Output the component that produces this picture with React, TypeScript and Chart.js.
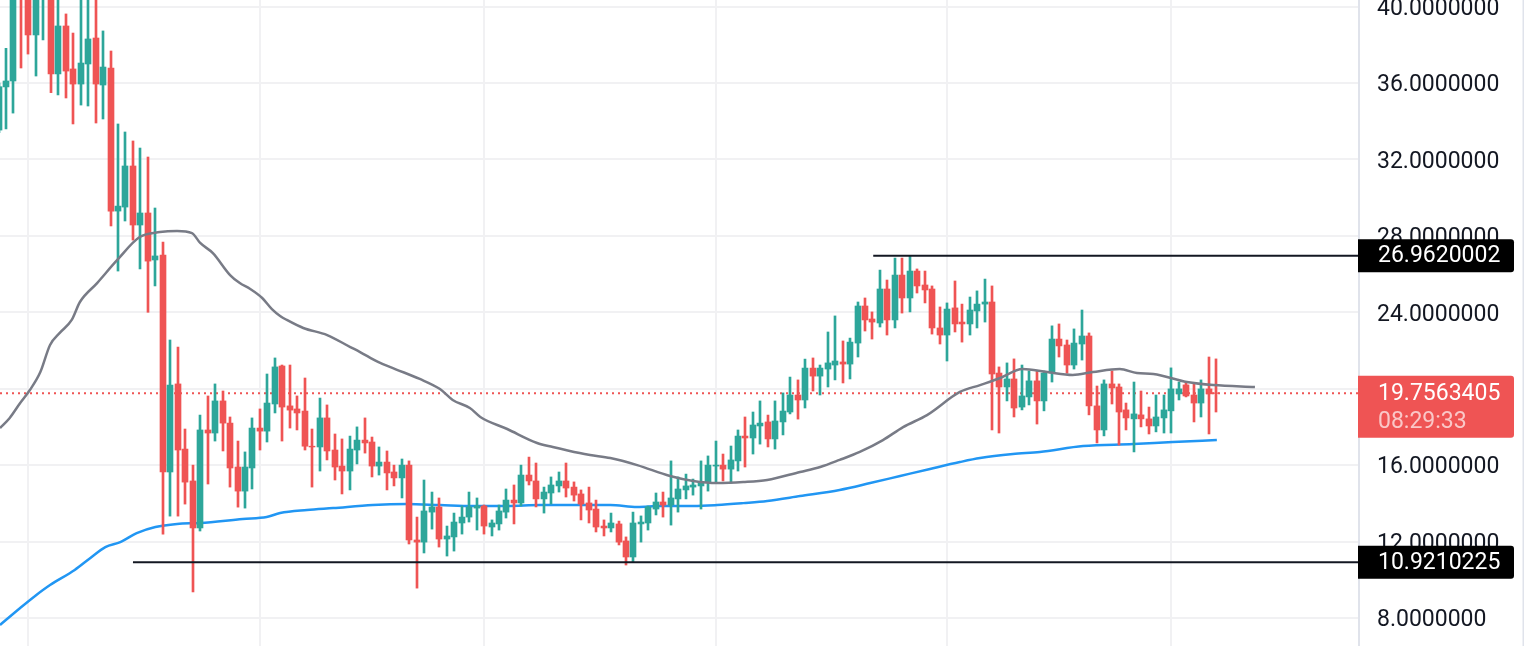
import { useEffect, useRef } from "react";
import Chart from "chart.js/auto";

const opens = [
  33.54, 35.8, 36.11, 42.5, 41.5, 38.52, 40.6, 42, 36.48, 38.99,
  36.74, 35.95, 37.0, 38.36, 35.9, 36.79, 29.3, 29.51, 31.66, 28.57,
  29.2, 26.74, 27.0, 15.64, 20.25, 16.84, 15.17, 12.71, 17.84, 17.68,
  19.36, 18.2, 15.9, 14.64, 15.85, 17.94, 17.78, 19.2, 21.19, 19.1,
  18.94, 18.83, 16.99, 16.95, 18.47, 16.79, 15.95, 15.69, 16.79, 17.31,
  17.21, 15.95, 16.16, 15.64, 15.33, 16.0, 12.08, 11.97, 13.54, 13.81,
  12.13, 12.24, 12.97, 13.28, 13.75, 13.86, 12.76, 12.92, 13.54, 14.17,
  14.02, 15.48, 15.17, 14.23, 14.54, 14.91, 15.17, 14.85, 14.49, 14.02,
  13.7, 12.81, 12.71, 12.92, 12.03, 11.19, 12.92, 12.97, 13.7, 14.07,
  13.91, 14.23, 14.7, 14.85, 14.91, 15.12, 15.95, 16.0, 15.79, 16.22,
  17.52, 17.42, 18.05, 18.26, 17.37, 18.26, 18.78, 19.67, 19.41, 21.08,
  20.66, 21.03, 21.24, 21.4, 21.29, 22.39, 24.33, 23.65, 23.44, 25.22,
  23.6, 25.95, 24.75, 26.16, 25.43, 25.22, 23.18, 22.81, 24.23, 23.49,
  23.39, 24.07, 24.43, 24.54, 20.82, 20.09, 20.51, 19.04, 19.57, 20.41,
  19.36, 20.82, 22.6, 22.29, 21.24, 22.34, 22.76, 19.1, 17.84, 20.25,
  20.09, 18.89, 18.42, 18.63, 18.42, 18.05, 18.47, 18.84, 19.73, 20.2,
  19.67, 19.25, 19.99, 19.78,
];
const closes = [
  35.81, 36.11, 41.5, 41.0, 38.52, 41.5, 42, 36.48, 38.99, 36.63,
  35.95, 37.05, 38.31, 35.95, 36.84, 29.3, 29.56, 31.66, 28.57, 29.2,
  26.68, 26.95, 15.64, 20.19, 16.79, 15.11, 12.71, 17.84, 17.68, 19.36,
  18.2, 15.85, 14.64, 15.9, 17.94, 17.78, 19.25, 21.14, 19.04, 18.88,
  18.73, 16.99, 16.95, 18.47, 16.74, 15.9, 15.69, 16.84, 17.31, 17.16,
  15.95, 16.16, 15.59, 15.33, 16.0, 12.08, 11.97, 13.6, 13.81, 12.13,
  12.29, 13.02, 13.28, 13.81, 13.86, 12.81, 12.97, 13.6, 14.17, 14.02,
  15.48, 15.17, 14.23, 14.59, 14.96, 15.17, 14.8, 14.43, 13.96, 13.65,
  12.76, 12.71, 12.97, 11.97, 11.19, 12.97, 13.02, 13.81, 14.07, 13.91,
  14.28, 14.75, 14.91, 14.96, 15.12, 16.0, 16.0, 15.79, 16.27, 17.52,
  17.42, 18.1, 18.2, 17.37, 18.31, 18.83, 19.67, 19.41, 21.08, 20.66,
  21.08, 21.35, 21.45, 21.29, 22.44, 24.33, 23.6, 23.49, 25.22, 23.6,
  25.95, 24.75, 26.16, 25.38, 25.17, 23.18, 22.81, 24.17, 23.39, 23.39,
  24.12, 24.43, 24.54, 20.77, 20.09, 20.51, 18.99, 19.62, 20.41, 19.36,
  20.82, 22.6, 22.24, 21.24, 22.39, 22.76, 19.1, 17.84, 20.25, 20.04,
  18.78, 18.47, 18.68, 18.42, 18.05, 18.52, 18.89, 19.99, 19.99, 19.62,
  19.25, 19.99, 19.73, 19.756,
];
const highs = [
  36, 37.82, 43, 43.5, 42.5, 42, 43, 42.5, 41, 39.62,
  38.62, 41, 41, 41, 38.73, 37.68, 33.86, 33.44, 32.97, 32.6,
  32.13, 29.46, 27.68, 22.55, 22.18, 17.89, 16.0, 18.62, 19.62, 20.25,
  19.88, 18.52, 17.26, 16.69, 18.47, 18.94, 20.77, 21.61, 21.24, 21.24,
  19.62, 20.56, 17.89, 19.51, 19.15, 17.63, 17.37, 17.52, 18.0, 18.47,
  17.47, 16.95, 16.74, 16.0, 16.32, 16.22, 13.28, 15.22, 14.59, 14.28,
  12.81, 13.49, 13.86, 14.59, 14.28, 13.91, 13.13, 13.91, 14.75, 14.96,
  16.0, 16.42, 16.11, 14.85, 15.38, 15.64, 16.11, 15.12, 14.7, 14.85,
  14.17, 13.13, 13.49, 13.07, 12.24, 13.54, 13.34, 13.86, 14.54, 14.59,
  16.22, 15.38, 15.53, 15.27, 16.22, 16.48, 17.26, 16.58, 17.0, 17.84,
  18.52, 18.78, 19.36, 18.62, 19.36, 19.78, 20.61, 20.46, 21.55, 21.61,
  21.24, 22.97, 23.81, 22.5, 22.65, 24.54, 24.75, 24.02, 26.21, 25.69,
  26.84, 26.84, 26.95, 26.27, 26.16, 25.38, 24.28, 24.49, 25.64, 24.43,
  24.8, 25.12, 25.74, 25.38, 21.14, 21.35, 21.56, 21.24, 20.93, 20.93,
  20.93, 23.29, 23.39, 22.55, 23.13, 24.12, 22.92, 20.14, 20.46, 20.93,
  20.25, 19.25, 20.35, 19.88, 19.04, 19.67, 19.67, 21.09, 20.35, 20.35,
  20.25, 20.46, 21.66, 21.56,
];
const lows = [
  33.4, 33.6, 34.43, 36.79, 37.52, 36.37, 38.26, 35.5, 35.38, 35.22,
  33.86, 34.85, 34.8, 33.91, 34.12, 28.52, 26.16, 28.78, 27.78, 26.27,
  24.0, 25.38, 12.39, 13.33, 13.33, 13.96, 9.36, 12.55, 15.01, 17.26,
  16.74, 14.85, 13.8, 13.75, 14.75, 16.79, 17.21, 18.73, 17.26, 17.94,
  17.84, 16.79, 14.85, 15.69, 16.27, 15.22, 14.49, 14.7, 16.06, 16.63,
  15.38, 15.48, 14.7, 14.91, 14.28, 11.87, 9.56, 11.4, 12.65, 11.71,
  11.24, 11.5, 12.39, 13.02, 12.6, 12.39, 12.29, 12.6, 13.23, 12.92,
  13.86, 14.96, 13.81, 13.49, 13.96, 14.59, 14.33, 14.12, 13.13, 12.97,
  12.5, 12.29, 12.5, 11.82, 10.77, 10.93, 11.97, 12.6, 13.39, 13.28,
  12.86, 13.54, 14.23, 14.43, 13.7, 14.64, 15.12, 15.17, 15.06, 15.69,
  15.9, 16.58, 17.1, 16.95, 16.84, 17.58, 18.68, 18.41, 18.99, 19.88,
  19.67, 20.09, 20.46, 20.3, 20.51, 21.66, 23.02, 22.6, 23.23, 22.81,
  23.18, 23.96, 24.02, 25.01, 24.49, 22.86, 22.34, 21.45, 22.97, 22.44,
  22.81, 23.18, 23.49, 17.84, 17.68, 19.36, 18.52, 18.89, 19.15, 18.15,
  18.84, 20.35, 21.66, 20.81, 21.03, 21.5, 18.63, 17.16, 17.53, 19.2,
  17.05, 17.84, 16.69, 18.0, 17.63, 17.74, 17.68, 17.68, 19.41, 19.57,
  18.26, 18.52, 17.63, 18.78,
];

const slowMaDays = [
  0.2, 1.5, 2.9, 4.2, 5.6, 6.9, 8.2, 9.8, 10.9, 13.2, 15.9, 18.9, 21.6, 23.9, 25.9, 27, 28.7, 31, 32.3, 33.7,
  35.3, 36.6, 37.7, 38.6, 40.8, 44, 47.1, 48.4, 50.8, 53.1, 56.4, 59.1, 60.8, 63.1, 64.5, 68.1, 72.1, 74.2, 77.8, 79.2,
  81.9, 85.5, 89.9, 93, 96.2, 99.7, 102.9, 107.3, 110, 112.6, 115.3, 118.4, 121.1, 124.3, 128.7, 131.4, 134.1, 137.1, 140.4, 143.8,
  146.5, 150.1, 152.4, 154.6, 159.1, 162.6, 168.2,
];
const slowMa = [
  17.94, 18.47, 19.25, 19.93, 20.87, 22.29, 22.92, 23.6, 24.54, 25.53, 26.74, 27.94, 28.2, 28.26, 28.15, 27.63, 27.1, 25.95, 25.53, 25.22,
  24.75, 24.17, 23.81, 23.6, 23.18, 22.81, 22.18, 21.92, 21.4, 21.03, 20.51, 19.98, 19.41, 18.99, 18.52, 17.89, 17.16, 16.95, 16.63, 16.53,
  16.37, 16.0, 15.43, 15.17, 15.06, 15.11, 15.22, 15.64, 15.9, 16.27, 16.69, 17.31, 17.99, 18.62, 19.83, 20.19, 20.56, 21.03, 20.87, 20.72,
  20.87, 21.03, 20.82, 20.77, 20.35, 20.19, 20.09,
];
const longMaDays = [
  0.2, 2.9, 4.9, 6.9, 10.2, 12.3, 14.3, 16.3, 18.5, 21, 23.9, 27, 32.7, 35.9, 37.7, 41.3, 44.8, 50.1, 54.7, 59.1,
  63.5, 68.1, 72.5, 77.8, 81.9, 85.5, 88.6, 93, 96.2, 99.7, 102.9, 107.3, 112.6, 116.7, 120.7, 124.7, 128.7, 131.4, 135.8, 139.4,
  145.2, 151.9, 157.2, 163.1,
];
const longMa = [
  7.63, 8.52, 9.15, 9.72, 10.51, 11.14, 11.71, 11.97, 12.44, 12.76, 12.92, 12.97, 13.18, 13.28, 13.49, 13.65, 13.75, 13.91, 13.96, 13.91,
  13.86, 13.86, 13.91, 13.91, 13.91, 13.81, 13.86, 13.86, 13.91, 14.01, 14.12, 14.38, 14.7, 15.06, 15.43, 15.8, 16.16, 16.37, 16.58, 16.69,
  17.0, 17.1, 17.21, 17.31,
];

const priceTicks = [40, 36, 32, 28, 24, 20, 16, 12, 8];
const monthTicks = [4, 35, 65, 96, 127, 157];

const topLevel = 26.9620002;
const topLevelStart = 117.1;
const bottomLevel = 10.9210225;
const bottomLevelStart = 18;
const lastPrice = 19.7563405;
const countdown = "08:29:33";

const X_MIN = 0.2;
const X_MAX = 182.13;
const UP = "#2da69a";
const DOWN = "#ef5454";
const FONT = "Roboto";
const GRID = "#f1f1f3";

const candleColors = closes.map((c, i) => (c >= opens[i] ? UP : DOWN));

// keeps candles on whole pixels, otherwise the 2px wicks go blurry
const snapBarsPlugin = {
  id: "snapBars",
  beforeDatasetsDraw(chart: any) {
    chart.getSortedVisibleDatasetMetas().forEach((meta: any) => {
      if (meta.type !== "bar") return;
      meta.data.forEach((bar: any) => {
        bar.x = Math.round(bar.x);
      });
    });
  },
};

// price tags sit on top of the axis, so they cover the 28, 20 and 12 ticks
const priceTagsPlugin = {
  id: "priceTags",
  afterDraw(chart: any) {
    const { ctx, scales } = chart;
    const left = chart.chartArea.right - 1;
    const width = 156;
    const textX = 1378;

    const tag = (top: number, height: number, color: string) => {
      ctx.fillStyle = color;
      ctx.beginPath();
      ctx.roundRect(left, top, width, height, [0, 3, 3, 0]);
      ctx.fill();
    };

    ctx.save();
    ctx.font = `23px ${FONT}`;
    ctx.textBaseline = "middle";
    ctx.textAlign = "left";

    [topLevel, bottomLevel].forEach((level) => {
      const y = scales.y.getPixelForValue(level);
      tag(y - 16.5, 33, "#000000");
      ctx.fillStyle = "#ffffff";
      ctx.fillText(level.toFixed(7), textX, y + 1);
    });

    const lastY = scales.y.getPixelForValue(lastPrice);
    tag(lastY - 17.5, 62, DOWN);
    ctx.fillStyle = "#ffffff";
    ctx.fillText(lastPrice.toFixed(7), textX, lastY + 1);
    ctx.fillStyle = "rgba(255,255,255,0.68)";
    ctx.fillText(countdown, textX, lastY + 29);

    ctx.fillStyle = "#e0e3eb";
    ctx.fillRect(1522.5, 0, 1.5, chart.height);
    ctx.restore();
  },
};

export default function App() {
  const canvasRef = useRef<HTMLCanvasElement | null>(null);

  useEffect(() => {
    if (!canvasRef.current) return;

    const chart = new Chart(canvasRef.current, {
      type: "bar",
      data: {
        datasets: [
          {
            type: "line",
            label: "Top level",
            data: [{ x: topLevelStart, y: topLevel }, { x: X_MAX, y: topLevel }],
            borderColor: "#131722",
            borderWidth: 2,
            pointRadius: 0,
            order: 1,
          },
          {
            type: "line",
            label: "Bottom level",
            data: [{ x: bottomLevelStart, y: bottomLevel }, { x: X_MAX, y: bottomLevel }],
            borderColor: "#131722",
            borderWidth: 2,
            pointRadius: 0,
            order: 1,
          },
          {
            type: "line",
            label: "MA slow",
            data: slowMa.map((y, i) => ({ x: slowMaDays[i], y })),
            borderColor: "#787b86",
            borderWidth: 2.5,
            cubicInterpolationMode: "monotone",
            pointRadius: 0,
            order: 2,
          },
          {
            label: "Body",
            data: opens.map((o, i) => ({ x: i, y: [o, closes[i]] })),
            backgroundColor: candleColors,
            barThickness: 6,
            grouped: false,
            order: 3,
          },
          {
            label: "Wick",
            data: lows.map((l, i) => ({ x: i, y: [l, highs[i]] })),
            backgroundColor: candleColors,
            barThickness: 2,
            grouped: false,
            order: 4,
          },
          {
            type: "line",
            label: "MA long",
            data: longMa.map((y, i) => ({ x: longMaDays[i], y })),
            borderColor: "#2196f3",
            borderWidth: 2.5,
            cubicInterpolationMode: "monotone",
            pointRadius: 0,
            order: 5,
          },
          {
            type: "line",
            label: "Last price",
            data: [{ x: X_MIN, y: lastPrice }, { x: X_MAX, y: lastPrice }],
            borderColor: DOWN,
            borderWidth: 2,
            borderDash: [2, 4],
            pointRadius: 0,
            order: 6,
          },
        ],
      } as any,
      options: {
        animation: false,
        responsive: true,
        maintainAspectRatio: false,
        layout: { padding: 0 },
        plugins: { legend: { display: false }, tooltip: { enabled: false } },
        scales: {
          x: {
            type: "linear",
            offset: false,
            min: X_MIN,
            max: X_MAX,
            ticks: { display: false },
            border: { display: false },
            grid: { color: GRID, lineWidth: 2, drawTicks: false, offset: false },
            afterBuildTicks: (axis: any) => {
              axis.ticks = monthTicks.map((value) => ({ value }));
            },
            afterFit: (axis: any) => {
              axis.height = 0;
            },
          },
          y: {
            type: "linear",
            position: "right",
            min: 6.53,
            max: 40.35,
            border: { color: "#e0e3eb", width: 2 },
            grid: { color: GRID, lineWidth: 2, drawTicks: false },
            ticks: {
              color: "#131722",
              padding: 18,
              labelOffset: 2.5,
              font: { family: FONT, size: 23 },
              callback: (value: any) => Number(value).toFixed(7),
            },
            afterBuildTicks: (axis: any) => {
              axis.ticks = priceTicks.map((value) => ({ value }));
            },
            afterFit: (axis: any) => {
              axis.width = 165;
              axis.paddingTop = 0;
              axis.paddingBottom = 0;
            },
          },
        },
      },
      plugins: [snapBarsPlugin, priceTagsPlugin],
    });

    return () => chart.destroy();
  }, []);

  return (
    <div style={{ position: "fixed", left: 0, top: 0, width: 1524, height: 646, background: "#fff" }}>
      <canvas ref={canvasRef} />
    </div>
  );
}
